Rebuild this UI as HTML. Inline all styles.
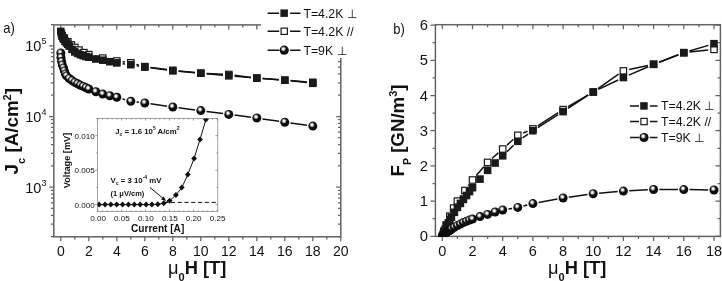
<!DOCTYPE html>
<html><head><meta charset="utf-8"><title>Jc and Fp vs field</title>
<style>html,body{margin:0;padding:0;background:#fff}svg{display:block}</style></head>
<body>
<svg width="722" height="281" viewBox="0 0 722 281" font-family="Liberation Sans, Arial, sans-serif">
<defs><radialGradient id="sp" cx="0.41" cy="0.365" r="0.31"><stop offset="0" stop-color="#fff"/><stop offset="0.3" stop-color="#f6f6f6"/><stop offset="0.62" stop-color="#909090"/><stop offset="1" stop-color="#0c0c0c"/></radialGradient></defs>
<rect width="722" height="281" fill="#fff"/>
<rect x="53.8" y="24.9" width="287.0" height="211.9" fill="none" stroke="#636363" stroke-width="1.5"/>
<path d="M60.8 236.8v4.5M60.8 24.9v4.5M74.8 236.8v2.6M74.8 24.9v2.6M88.8 236.8v4.5M88.8 24.9v4.5M102.8 236.8v2.6M102.8 24.9v2.6M116.8 236.8v4.5M116.8 24.9v4.5M130.8 236.8v2.6M130.8 24.9v2.6M144.8 236.8v4.5M144.8 24.9v4.5M158.8 236.8v2.6M158.8 24.9v2.6M172.8 236.8v4.5M172.8 24.9v4.5M186.8 236.8v2.6M186.8 24.9v2.6M200.8 236.8v4.5M200.8 24.9v4.5M214.8 236.8v2.6M214.8 24.9v2.6M228.8 236.8v4.5M228.8 24.9v4.5M242.8 236.8v2.6M242.8 24.9v2.6M256.8 236.8v4.5M256.8 24.9v4.5M270.8 236.8v2.6M270.8 24.9v2.6M284.8 236.8v4.5M284.8 24.9v4.5M298.8 236.8v2.6M298.8 24.9v2.6M312.8 236.8v4.5M312.8 24.9v4.5M326.8 236.8v2.6M326.8 24.9v2.6M340.8 236.8v4.5M340.8 24.9v4.5M53.8 236.5h-2.8M340.8 236.5h-2.8M53.8 224.1h-2.8M340.8 224.1h-2.8M53.8 215.3h-2.8M340.8 215.3h-2.8M53.8 208.4h-2.8M340.8 208.4h-2.8M53.8 202.8h-2.8M340.8 202.8h-2.8M53.8 198.1h-2.8M340.8 198.1h-2.8M53.8 194.0h-2.8M340.8 194.0h-2.8M53.8 190.4h-2.8M340.8 190.4h-2.8M53.8 187.1h-4.6M340.8 187.1h-4.6M53.8 165.9h-2.8M340.8 165.9h-2.8M53.8 153.4h-2.8M340.8 153.4h-2.8M53.8 144.6h-2.8M340.8 144.6h-2.8M53.8 137.7h-2.8M340.8 137.7h-2.8M53.8 132.1h-2.8M340.8 132.1h-2.8M53.8 127.4h-2.8M340.8 127.4h-2.8M53.8 123.3h-2.8M340.8 123.3h-2.8M53.8 119.7h-2.8M340.8 119.7h-2.8M53.8 116.5h-4.6M340.8 116.5h-4.6M53.8 95.2h-2.8M340.8 95.2h-2.8M53.8 82.8h-2.8M340.8 82.8h-2.8M53.8 73.9h-2.8M340.8 73.9h-2.8M53.8 67.1h-2.8M340.8 67.1h-2.8M53.8 61.5h-2.8M340.8 61.5h-2.8M53.8 56.7h-2.8M340.8 56.7h-2.8M53.8 52.6h-2.8M340.8 52.6h-2.8M53.8 49.0h-2.8M340.8 49.0h-2.8M53.8 45.8h-4.6M340.8 45.8h-4.6M53.8 24.5h-2.8M340.8 24.5h-2.8" stroke="#636363" stroke-width="1.25" fill="none"/>
<path d="M94.5 56.0L97.1 56.7M108.5 59.3L111.1 59.8M122.6 61.7L125.0 62.1M136.5 64.4L139.1 65.1M150.6 67.4L167.0 69.5M178.6 70.9L195.0 72.6M206.6 73.5L223.0 74.3M234.6 75.3L251.0 77.4M262.6 78.5L279.0 79.8M290.6 80.8L307.0 82.6" stroke="#111" stroke-width="1.5" fill="none"/>
<rect x="59.0" y="32.7" width="6.4" height="6.4" fill="#fff" stroke="#1a1a1a" stroke-width="1.2"/>
<rect x="61.1" y="35.0" width="6.4" height="6.4" fill="#fff" stroke="#1a1a1a" stroke-width="1.2"/>
<rect x="64.6" y="38.6" width="6.4" height="6.4" fill="#fff" stroke="#1a1a1a" stroke-width="1.2"/>
<rect x="68.1" y="41.7" width="6.4" height="6.4" fill="#fff" stroke="#1a1a1a" stroke-width="1.2"/>
<rect x="71.6" y="44.2" width="6.4" height="6.4" fill="#fff" stroke="#1a1a1a" stroke-width="1.2"/>
<rect x="75.8" y="46.9" width="6.4" height="6.4" fill="#fff" stroke="#1a1a1a" stroke-width="1.2"/>
<rect x="80.7" y="49.4" width="6.4" height="6.4" fill="#fff" stroke="#1a1a1a" stroke-width="1.2"/>
<rect x="85.6" y="51.4" width="6.4" height="6.4" fill="#fff" stroke="#1a1a1a" stroke-width="1.2"/>
<rect x="99.6" y="54.9" width="6.4" height="6.4" fill="#fff" stroke="#1a1a1a" stroke-width="1.2"/>
<rect x="113.6" y="57.8" width="6.4" height="6.4" fill="#fff" stroke="#1a1a1a" stroke-width="1.2"/>
<rect x="127.6" y="59.6" width="6.4" height="6.4" fill="#fff" stroke="#1a1a1a" stroke-width="1.2"/>
<rect x="141.6" y="63.4" width="6.4" height="6.4" fill="#fff" stroke="#1a1a1a" stroke-width="1.2"/>
<rect x="169.6" y="67.1" width="6.4" height="6.4" fill="#fff" stroke="#1a1a1a" stroke-width="1.2"/>
<rect x="197.6" y="70.0" width="6.4" height="6.4" fill="#fff" stroke="#1a1a1a" stroke-width="1.2"/>
<rect x="225.6" y="71.3" width="6.4" height="6.4" fill="#fff" stroke="#1a1a1a" stroke-width="1.2"/>
<rect x="253.6" y="74.9" width="6.4" height="6.4" fill="#fff" stroke="#1a1a1a" stroke-width="1.2"/>
<rect x="281.6" y="77.0" width="6.4" height="6.4" fill="#fff" stroke="#1a1a1a" stroke-width="1.2"/>
<rect x="309.6" y="80.1" width="6.4" height="6.4" fill="#fff" stroke="#1a1a1a" stroke-width="1.2"/>
<path d="M122.6 63.7L125.0 64.0M136.6 65.7L139.0 66.1M150.6 67.8L167.0 70.0M178.6 71.3L195.0 72.7M206.6 73.7L223.0 75.3M234.6 76.3L251.0 77.6M262.6 78.5L279.0 79.8M290.6 80.6L307.0 81.9" stroke="#111" stroke-width="1.5" fill="none"/>
<rect x="57.0" y="27.6" width="7.6" height="7.6" fill="#1a1a1a"/>
<rect x="57.7" y="30.2" width="7.6" height="7.6" fill="#1a1a1a"/>
<rect x="58.4" y="32.3" width="7.6" height="7.6" fill="#1a1a1a"/>
<rect x="59.1" y="33.9" width="7.6" height="7.6" fill="#1a1a1a"/>
<rect x="59.8" y="35.4" width="7.6" height="7.6" fill="#1a1a1a"/>
<rect x="61.2" y="37.4" width="7.6" height="7.6" fill="#1a1a1a"/>
<rect x="62.6" y="39.1" width="7.6" height="7.6" fill="#1a1a1a"/>
<rect x="64.0" y="40.5" width="7.6" height="7.6" fill="#1a1a1a"/>
<rect x="65.4" y="42.3" width="7.6" height="7.6" fill="#1a1a1a"/>
<rect x="68.2" y="45.6" width="7.6" height="7.6" fill="#1a1a1a"/>
<rect x="71.0" y="48.1" width="7.6" height="7.6" fill="#1a1a1a"/>
<rect x="73.8" y="49.6" width="7.6" height="7.6" fill="#1a1a1a"/>
<rect x="76.6" y="50.9" width="7.6" height="7.6" fill="#1a1a1a"/>
<rect x="79.4" y="51.9" width="7.6" height="7.6" fill="#1a1a1a"/>
<rect x="82.2" y="52.7" width="7.6" height="7.6" fill="#1a1a1a"/>
<rect x="85.0" y="53.4" width="7.6" height="7.6" fill="#1a1a1a"/>
<rect x="92.0" y="55.2" width="7.6" height="7.6" fill="#1a1a1a"/>
<rect x="99.0" y="56.4" width="7.6" height="7.6" fill="#1a1a1a"/>
<rect x="106.0" y="57.9" width="7.6" height="7.6" fill="#1a1a1a"/>
<rect x="113.0" y="59.1" width="7.6" height="7.6" fill="#1a1a1a"/>
<rect x="127.0" y="60.9" width="7.6" height="7.6" fill="#1a1a1a"/>
<rect x="141.0" y="63.3" width="7.6" height="7.6" fill="#1a1a1a"/>
<rect x="169.0" y="67.0" width="7.6" height="7.6" fill="#1a1a1a"/>
<rect x="197.0" y="69.4" width="7.6" height="7.6" fill="#1a1a1a"/>
<rect x="225.0" y="72.0" width="7.6" height="7.6" fill="#1a1a1a"/>
<rect x="253.0" y="74.3" width="7.6" height="7.6" fill="#1a1a1a"/>
<rect x="281.0" y="76.4" width="7.6" height="7.6" fill="#1a1a1a"/>
<rect x="309.0" y="78.5" width="7.6" height="7.6" fill="#1a1a1a"/>
<path d="M122.4 98.9L125.2 99.7M136.6 102.0L139.0 102.3M150.5 103.8L167.1 106.2M178.6 107.8L195.0 109.9M206.5 111.4L223.1 113.6M234.6 115.1L251.0 117.3M262.5 118.9L279.1 121.3M290.5 123.0L307.1 125.3" stroke="#111" stroke-width="1.5" fill="none"/>
<circle cx="60.8" cy="53.0" r="4.5" fill="url(#sp)"/>
<circle cx="61.0" cy="57.4" r="4.5" fill="url(#sp)"/>
<circle cx="61.6" cy="61.5" r="4.5" fill="url(#sp)"/>
<circle cx="62.3" cy="64.9" r="4.5" fill="url(#sp)"/>
<circle cx="63.5" cy="67.9" r="4.5" fill="url(#sp)"/>
<circle cx="64.4" cy="70.9" r="4.5" fill="url(#sp)"/>
<circle cx="65.4" cy="73.9" r="4.5" fill="url(#sp)"/>
<circle cx="66.5" cy="75.9" r="4.5" fill="url(#sp)"/>
<circle cx="69.2" cy="78.5" r="4.5" fill="url(#sp)"/>
<circle cx="72.0" cy="80.6" r="4.5" fill="url(#sp)"/>
<circle cx="74.8" cy="82.4" r="4.5" fill="url(#sp)"/>
<circle cx="77.6" cy="83.8" r="4.5" fill="url(#sp)"/>
<circle cx="80.4" cy="85.2" r="4.5" fill="url(#sp)"/>
<circle cx="83.2" cy="86.4" r="4.5" fill="url(#sp)"/>
<circle cx="86.0" cy="87.7" r="4.5" fill="url(#sp)"/>
<circle cx="88.8" cy="89.0" r="4.5" fill="url(#sp)"/>
<circle cx="95.8" cy="91.7" r="4.5" fill="url(#sp)"/>
<circle cx="102.8" cy="94.1" r="4.5" fill="url(#sp)"/>
<circle cx="109.8" cy="95.7" r="4.5" fill="url(#sp)"/>
<circle cx="116.8" cy="97.3" r="4.5" fill="url(#sp)"/>
<circle cx="130.8" cy="101.3" r="4.5" fill="url(#sp)"/>
<circle cx="144.8" cy="103.0" r="4.5" fill="url(#sp)"/>
<circle cx="172.8" cy="107.0" r="4.5" fill="url(#sp)"/>
<circle cx="200.8" cy="110.6" r="4.5" fill="url(#sp)"/>
<circle cx="228.8" cy="114.4" r="4.5" fill="url(#sp)"/>
<circle cx="256.8" cy="118.0" r="4.5" fill="url(#sp)"/>
<circle cx="284.8" cy="122.2" r="4.5" fill="url(#sp)"/>
<circle cx="312.8" cy="126.1" r="4.5" fill="url(#sp)"/>
<rect x="261" y="0" width="100" height="58" fill="#fff"/>
<path d="M267.6 13.2H279.2M290.09999999999997 13.2H300.5" stroke="#111" stroke-width="1.5"/>
<rect x="280.4" y="9.4" width="7.5" height="7.5" fill="#1a1a1a"/>
<path d="M267.6 31.2H279.2M290.09999999999997 31.2H300.5" stroke="#111" stroke-width="1.5"/>
<rect x="281.1" y="28.1" width="6.3" height="6.3" fill="#fff" stroke="#1a1a1a" stroke-width="1.2"/>
<path d="M267.6 50.2H279.2M290.09999999999997 50.2H300.5" stroke="#111" stroke-width="1.5"/>
<circle cx="284.2" cy="50.2" r="4.6" fill="url(#sp)"/>
<text x="303.4" y="17.6" font-size="12.3" fill="#111">T=4.2K ⊥</text>
<text x="303.4" y="35.6" font-size="12.3" fill="#111">T=4.2K //</text>
<text x="303.4" y="54.6" font-size="12.3" fill="#111">T=9K ⊥</text>
<text x="60.8" y="255.5" font-size="14" text-anchor="middle" fill="#111">0</text>
<text x="88.8" y="255.5" font-size="14" text-anchor="middle" fill="#111">2</text>
<text x="116.8" y="255.5" font-size="14" text-anchor="middle" fill="#111">4</text>
<text x="144.8" y="255.5" font-size="14" text-anchor="middle" fill="#111">6</text>
<text x="172.8" y="255.5" font-size="14" text-anchor="middle" fill="#111">8</text>
<text x="200.8" y="255.5" font-size="14" text-anchor="middle" fill="#111">10</text>
<text x="228.8" y="255.5" font-size="14" text-anchor="middle" fill="#111">12</text>
<text x="256.8" y="255.5" font-size="14" text-anchor="middle" fill="#111">14</text>
<text x="284.8" y="255.5" font-size="14" text-anchor="middle" fill="#111">16</text>
<text x="312.8" y="255.5" font-size="14" text-anchor="middle" fill="#111">18</text>
<text x="340.8" y="255.5" font-size="14" text-anchor="middle" fill="#111">20</text>
<text x="46.4" y="192.6" font-size="14.5" text-anchor="end" fill="#111">10<tspan font-size="9" dy="-7">3</tspan></text>
<text x="46.4" y="122.0" font-size="14.5" text-anchor="end" fill="#111">10<tspan font-size="9" dy="-7">4</tspan></text>
<text x="46.4" y="51.3" font-size="14.5" text-anchor="end" fill="#111">10<tspan font-size="9" dy="-7">5</tspan></text>
<text transform="translate(3.2,33.4) scale(0.88,1)" font-size="14.8" fill="#111">a)</text>
<text x="168" y="274.2" font-size="18.3" font-weight="bold" fill="#111"><tspan font-weight="normal">μ</tspan><tspan font-size="11" dy="7.2">0</tspan><tspan dy="-7.2">H [T]</tspan></text>
<text transform="translate(17.8,174.4) rotate(-90)" font-size="18.8" font-weight="bold" fill="#111">J<tspan font-size="11" dy="7.5">c</tspan><tspan dy="-7.5"> [A/cm</tspan><tspan font-size="11" dy="-7">2</tspan><tspan dy="7">]</tspan></text>
<rect x="62" y="117.6" width="160" height="118" fill="#fff"/>
<rect x="97.6" y="118.4" width="120.2" height="93.1" fill="none" stroke="#8a8a8a" stroke-width="0.8"/>
<path d="M97.8 211.5v-2.2M97.8 118.4v2.2M102.6 211.5v-1.2M102.6 118.4v1.2M107.4 211.5v-1.2M107.4 118.4v1.2M112.1 211.5v-1.2M112.1 118.4v1.2M116.9 211.5v-1.2M116.9 118.4v1.2M121.7 211.5v-2.2M121.7 118.4v2.2M126.5 211.5v-1.2M126.5 118.4v1.2M131.3 211.5v-1.2M131.3 118.4v1.2M136.0 211.5v-1.2M136.0 118.4v1.2M140.8 211.5v-1.2M140.8 118.4v1.2M145.6 211.5v-2.2M145.6 118.4v2.2M150.4 211.5v-1.2M150.4 118.4v1.2M155.2 211.5v-1.2M155.2 118.4v1.2M159.9 211.5v-1.2M159.9 118.4v1.2M164.7 211.5v-1.2M164.7 118.4v1.2M169.5 211.5v-2.2M169.5 118.4v2.2M174.3 211.5v-1.2M174.3 118.4v1.2M179.1 211.5v-1.2M179.1 118.4v1.2M183.8 211.5v-1.2M183.8 118.4v1.2M188.6 211.5v-1.2M188.6 118.4v1.2M193.4 211.5v-2.2M193.4 118.4v2.2M198.2 211.5v-1.2M198.2 118.4v1.2M203.0 211.5v-1.2M203.0 118.4v1.2M207.7 211.5v-1.2M207.7 118.4v1.2M212.5 211.5v-1.2M212.5 118.4v1.2M217.3 211.5v-2.2M217.3 118.4v2.2M97.6 204.6h-2.4M217.8 204.6h-2.4M97.6 187.4h-1.4M217.8 187.4h-1.4M97.6 170.1h-2.4M217.8 170.1h-2.4M97.6 152.9h-1.4M217.8 152.9h-1.4M97.6 135.7h-2.4M217.8 135.7h-2.4M97.6 118.5h-1.4M217.8 118.5h-1.4" stroke="#777" stroke-width="0.7" fill="none"/>
<path d="M164 202.4H217.8" stroke="#111" stroke-width="1" stroke-dasharray="4.2 2.6"/>
<clipPath id="ic"><rect x="97.6" y="118.4" width="120.2" height="93.1"/></clipPath>
<g clip-path="url(#ic)">
<path d="M99.1 204.6L105.0 204.6L110.8 204.6L116.7 204.6L122.6 204.6L128.4 204.6L134.3 204.6L140.2 204.6L146.1 204.6L151.9 204.6L157.8 204.3L163.7 203.3L169.6 200.7L175.9 195.1L181.8 187.6L187.8 174.6L194.1 158.4L200.0 139.5L205.9 119.6L209.5 108.0" stroke="#111" stroke-width="1" fill="none"/>
<path d="M99.1 201.6l2.9 3l-2.9 3l-2.9 -3z" fill="#111"/>
<path d="M105.0 201.6l2.9 3l-2.9 3l-2.9 -3z" fill="#111"/>
<path d="M110.8 201.6l2.9 3l-2.9 3l-2.9 -3z" fill="#111"/>
<path d="M116.7 201.6l2.9 3l-2.9 3l-2.9 -3z" fill="#111"/>
<path d="M122.6 201.6l2.9 3l-2.9 3l-2.9 -3z" fill="#111"/>
<path d="M128.4 201.6l2.9 3l-2.9 3l-2.9 -3z" fill="#111"/>
<path d="M134.3 201.6l2.9 3l-2.9 3l-2.9 -3z" fill="#111"/>
<path d="M140.2 201.6l2.9 3l-2.9 3l-2.9 -3z" fill="#111"/>
<path d="M146.1 201.6l2.9 3l-2.9 3l-2.9 -3z" fill="#111"/>
<path d="M151.9 201.6l2.9 3l-2.9 3l-2.9 -3z" fill="#111"/>
<path d="M157.8 201.3l2.9 3l-2.9 3l-2.9 -3z" fill="#111"/>
<path d="M163.7 200.3l2.9 3l-2.9 3l-2.9 -3z" fill="#111"/>
<path d="M169.6 197.7l2.9 3l-2.9 3l-2.9 -3z" fill="#111"/>
<path d="M175.9 192.1l2.9 3l-2.9 3l-2.9 -3z" fill="#111"/>
<path d="M181.8 184.6l2.9 3l-2.9 3l-2.9 -3z" fill="#111"/>
<path d="M187.8 171.6l2.9 3l-2.9 3l-2.9 -3z" fill="#111"/>
<path d="M194.1 155.4l2.9 3l-2.9 3l-2.9 -3z" fill="#111"/>
<path d="M200.0 136.5l2.9 3l-2.9 3l-2.9 -3z" fill="#111"/>
<path d="M205.9 116.6l2.9 3l-2.9 3l-2.9 -3z" fill="#111"/>
<path d="M209.5 105.0l2.9 3l-2.9 3l-2.9 -3z" fill="#111"/>
</g>
<path d="M150 187.5L163.6 198.8" stroke="#111" stroke-width="1"/>
<path d="M166.2 201l-5.2 -1.6l2.6 -3.1z" fill="#111"/>
<text x="98.1" y="221.3" font-size="8.1" text-anchor="middle" fill="#111">0.00</text>
<text x="122.0" y="221.3" font-size="8.1" text-anchor="middle" fill="#111">0.05</text>
<text x="145.9" y="221.3" font-size="8.1" text-anchor="middle" fill="#111">0.10</text>
<text x="169.8" y="221.3" font-size="8.1" text-anchor="middle" fill="#111">0.15</text>
<text x="193.7" y="221.3" font-size="8.1" text-anchor="middle" fill="#111">0.20</text>
<text x="217.6" y="221.3" font-size="8.1" text-anchor="middle" fill="#111">0.25</text>
<text x="94.8" y="207.5" font-size="8.1" text-anchor="end" fill="#111">0.000</text>
<text x="94.8" y="173.0" font-size="8.1" text-anchor="end" fill="#111">0.005</text>
<text x="94.8" y="138.6" font-size="8.1" text-anchor="end" fill="#111">0.010</text>
<text x="131" y="232.1" font-size="10.1" font-weight="bold" fill="#111">Current [A]</text>
<text transform="translate(69.9,188.2) rotate(-90)" font-size="9.2" font-weight="bold" fill="#111">Voltage [mV]</text>
<text x="115.2" y="133.7" font-size="7.8" font-weight="bold" fill="#111">J<tspan font-size="5" dy="2">c</tspan><tspan dy="-2"> = 1.6 10</tspan><tspan font-size="5" dy="-3.4">5</tspan><tspan dy="3.4"> A/cm</tspan><tspan font-size="5" dy="-3.4">2</tspan></text>
<text x="110.6" y="182.5" font-size="7.8" font-weight="bold" fill="#111">V<tspan font-size="5" dy="2">c</tspan><tspan dy="-2"> = 3 10</tspan><tspan font-size="5" dy="-3.4">-4</tspan><tspan dy="3.4"> mV</tspan></text>
<text x="110.6" y="196.2" font-size="7.5" font-weight="bold" fill="#111">(1 μV/cm)</text>
<rect x="435.4" y="24.7" width="285.0" height="211.7" fill="none" stroke="#636363" stroke-width="1.5"/>
<path d="M442.3 236.4v4.6M442.3 24.7v4.6M457.4 236.4v2.6M457.4 24.7v2.6M472.5 236.4v4.6M472.5 24.7v4.6M487.6 236.4v2.6M487.6 24.7v2.6M502.7 236.4v4.6M502.7 24.7v4.6M517.8 236.4v2.6M517.8 24.7v2.6M532.9 236.4v4.6M532.9 24.7v4.6M548.0 236.4v2.6M548.0 24.7v2.6M563.1 236.4v4.6M563.1 24.7v4.6M578.2 236.4v2.6M578.2 24.7v2.6M593.2 236.4v4.6M593.2 24.7v4.6M608.3 236.4v2.6M608.3 24.7v2.6M623.4 236.4v4.6M623.4 24.7v4.6M638.5 236.4v2.6M638.5 24.7v2.6M653.6 236.4v4.6M653.6 24.7v4.6M668.7 236.4v2.6M668.7 24.7v2.6M683.8 236.4v4.6M683.8 24.7v4.6M698.9 236.4v2.6M698.9 24.7v2.6M714.0 236.4v4.6M714.0 24.7v4.6M435.4 236.3h-5.0M720.4 236.3h-5.0M435.4 218.7h-2.8M720.4 218.7h-2.8M435.4 201.1h-5.0M720.4 201.1h-5.0M435.4 183.5h-2.8M720.4 183.5h-2.8M435.4 165.9h-5.0M720.4 165.9h-5.0M435.4 148.3h-2.8M720.4 148.3h-2.8M435.4 130.7h-5.0M720.4 130.7h-5.0M435.4 113.1h-2.8M720.4 113.1h-2.8M435.4 95.5h-5.0M720.4 95.5h-5.0M435.4 77.9h-2.8M720.4 77.9h-2.8M435.4 60.3h-5.0M720.4 60.3h-5.0M435.4 42.7h-2.8M720.4 42.7h-2.8M435.4 25.1h-5.0M720.4 25.1h-5.0" stroke="#636363" stroke-width="1.25" fill="none"/>
<clipPath id="bc"><rect x="435.4" y="24.7" width="287.0" height="212.3"/></clipPath>
<g clip-path="url(#bc)">
<path d="M460.8 196.3L461.5 195.3M468.3 185.8L469.1 184.7M476.3 175.5L483.8 166.8M492.0 158.5L498.3 152.9M507.0 145.1L513.4 139.2M523.2 133.0L527.5 131.2M537.8 125.8L558.1 112.7M568.1 106.6L588.2 94.9M598.0 88.6L618.6 74.2M629.2 69.6L647.9 65.6M659.1 62.2L678.4 54.8M689.6 52.1L708.2 50.0" stroke="#111" stroke-width="1.5" fill="none"/>
<rect x="440.6" y="228.2" width="6.4" height="6.4" fill="#fff" stroke="#1a1a1a" stroke-width="1.2"/>
<rect x="442.9" y="221.8" width="6.4" height="6.4" fill="#fff" stroke="#1a1a1a" stroke-width="1.2"/>
<rect x="446.6" y="213.0" width="6.4" height="6.4" fill="#fff" stroke="#1a1a1a" stroke-width="1.2"/>
<rect x="450.4" y="204.9" width="6.4" height="6.4" fill="#fff" stroke="#1a1a1a" stroke-width="1.2"/>
<rect x="454.2" y="197.9" width="6.4" height="6.4" fill="#fff" stroke="#1a1a1a" stroke-width="1.2"/>
<rect x="461.7" y="187.3" width="6.4" height="6.4" fill="#fff" stroke="#1a1a1a" stroke-width="1.2"/>
<rect x="469.3" y="176.8" width="6.4" height="6.4" fill="#fff" stroke="#1a1a1a" stroke-width="1.2"/>
<rect x="484.4" y="159.2" width="6.4" height="6.4" fill="#fff" stroke="#1a1a1a" stroke-width="1.2"/>
<rect x="499.5" y="145.8" width="6.4" height="6.4" fill="#fff" stroke="#1a1a1a" stroke-width="1.2"/>
<rect x="514.6" y="132.1" width="6.4" height="6.4" fill="#fff" stroke="#1a1a1a" stroke-width="1.2"/>
<rect x="529.7" y="125.7" width="6.4" height="6.4" fill="#fff" stroke="#1a1a1a" stroke-width="1.2"/>
<rect x="559.9" y="106.4" width="6.4" height="6.4" fill="#fff" stroke="#1a1a1a" stroke-width="1.2"/>
<rect x="590.1" y="88.8" width="6.4" height="6.4" fill="#fff" stroke="#1a1a1a" stroke-width="1.2"/>
<rect x="620.2" y="67.7" width="6.4" height="6.4" fill="#fff" stroke="#1a1a1a" stroke-width="1.2"/>
<rect x="650.4" y="61.1" width="6.4" height="6.4" fill="#fff" stroke="#1a1a1a" stroke-width="1.2"/>
<rect x="680.6" y="49.5" width="6.4" height="6.4" fill="#fff" stroke="#1a1a1a" stroke-width="1.2"/>
<rect x="710.8" y="46.2" width="6.4" height="6.4" fill="#fff" stroke="#1a1a1a" stroke-width="1.2"/>
<path d="M506.9 151.7L513.6 145.3M522.6 137.9L528.1 134.1M537.8 127.6L558.1 114.7M568.0 108.4L588.3 95.2M598.5 89.4L618.2 80.0M628.8 75.1L648.3 66.7M659.1 62.2L678.4 54.8M689.4 51.0L708.4 45.4" stroke="#111" stroke-width="1.5" fill="none"/>
<rect x="438.5" y="232.5" width="7.6" height="7.6" fill="#1a1a1a"/>
<rect x="439.3" y="230.5" width="7.6" height="7.6" fill="#1a1a1a"/>
<rect x="440.0" y="228.6" width="7.6" height="7.6" fill="#1a1a1a"/>
<rect x="440.8" y="226.9" width="7.6" height="7.6" fill="#1a1a1a"/>
<rect x="441.5" y="225.3" width="7.6" height="7.6" fill="#1a1a1a"/>
<rect x="443.0" y="222.1" width="7.6" height="7.6" fill="#1a1a1a"/>
<rect x="444.5" y="219.1" width="7.6" height="7.6" fill="#1a1a1a"/>
<rect x="446.0" y="216.1" width="7.6" height="7.6" fill="#1a1a1a"/>
<rect x="447.6" y="213.4" width="7.6" height="7.6" fill="#1a1a1a"/>
<rect x="450.6" y="208.5" width="7.6" height="7.6" fill="#1a1a1a"/>
<rect x="453.6" y="203.6" width="7.6" height="7.6" fill="#1a1a1a"/>
<rect x="456.6" y="199.6" width="7.6" height="7.6" fill="#1a1a1a"/>
<rect x="459.6" y="195.6" width="7.6" height="7.6" fill="#1a1a1a"/>
<rect x="462.7" y="191.7" width="7.6" height="7.6" fill="#1a1a1a"/>
<rect x="465.7" y="187.8" width="7.6" height="7.6" fill="#1a1a1a"/>
<rect x="468.7" y="183.9" width="7.6" height="7.6" fill="#1a1a1a"/>
<rect x="476.2" y="175.3" width="7.6" height="7.6" fill="#1a1a1a"/>
<rect x="483.8" y="166.5" width="7.6" height="7.6" fill="#1a1a1a"/>
<rect x="491.3" y="159.2" width="7.6" height="7.6" fill="#1a1a1a"/>
<rect x="498.9" y="152.0" width="7.6" height="7.6" fill="#1a1a1a"/>
<rect x="514.0" y="137.5" width="7.6" height="7.6" fill="#1a1a1a"/>
<rect x="529.1" y="126.9" width="7.6" height="7.6" fill="#1a1a1a"/>
<rect x="559.3" y="107.8" width="7.6" height="7.6" fill="#1a1a1a"/>
<rect x="589.5" y="88.2" width="7.6" height="7.6" fill="#1a1a1a"/>
<rect x="619.6" y="73.7" width="7.6" height="7.6" fill="#1a1a1a"/>
<rect x="649.8" y="60.5" width="7.6" height="7.6" fill="#1a1a1a"/>
<rect x="680.0" y="48.9" width="7.6" height="7.6" fill="#1a1a1a"/>
<rect x="710.2" y="39.9" width="7.6" height="7.6" fill="#1a1a1a"/>
<path d="M508.4 209.0L512.1 208.4M523.4 206.0L527.3 205.0M538.6 202.5L557.4 199.1M568.8 197.2L587.5 194.5M599.0 193.2L617.7 191.6M629.2 190.8L647.8 189.8M659.4 189.5L678.0 189.5M689.6 189.6L708.2 190.0" stroke="#111" stroke-width="1.5" fill="none"/>
<circle cx="442.3" cy="236.3" r="4.5" fill="url(#sp)"/>
<circle cx="442.6" cy="235.8" r="4.5" fill="url(#sp)"/>
<circle cx="442.9" cy="235.4" r="4.5" fill="url(#sp)"/>
<circle cx="443.2" cy="235.0" r="4.5" fill="url(#sp)"/>
<circle cx="443.5" cy="234.7" r="4.5" fill="url(#sp)"/>
<circle cx="443.8" cy="234.4" r="4.5" fill="url(#sp)"/>
<circle cx="444.1" cy="234.1" r="4.5" fill="url(#sp)"/>
<circle cx="444.4" cy="233.7" r="4.5" fill="url(#sp)"/>
<circle cx="444.7" cy="233.5" r="4.5" fill="url(#sp)"/>
<circle cx="445.0" cy="233.2" r="4.5" fill="url(#sp)"/>
<circle cx="445.3" cy="232.9" r="4.5" fill="url(#sp)"/>
<circle cx="445.6" cy="232.7" r="4.5" fill="url(#sp)"/>
<circle cx="445.9" cy="232.5" r="4.5" fill="url(#sp)"/>
<circle cx="446.2" cy="232.3" r="4.5" fill="url(#sp)"/>
<circle cx="446.5" cy="232.1" r="4.5" fill="url(#sp)"/>
<circle cx="446.8" cy="231.9" r="4.5" fill="url(#sp)"/>
<circle cx="447.1" cy="231.7" r="4.5" fill="url(#sp)"/>
<circle cx="447.4" cy="231.6" r="4.5" fill="url(#sp)"/>
<circle cx="447.7" cy="231.4" r="4.5" fill="url(#sp)"/>
<circle cx="448.0" cy="231.2" r="4.5" fill="url(#sp)"/>
<circle cx="448.3" cy="231.0" r="4.5" fill="url(#sp)"/>
<circle cx="448.6" cy="230.8" r="4.5" fill="url(#sp)"/>
<circle cx="448.9" cy="230.6" r="4.5" fill="url(#sp)"/>
<circle cx="449.2" cy="230.4" r="4.5" fill="url(#sp)"/>
<circle cx="449.5" cy="230.2" r="4.5" fill="url(#sp)"/>
<circle cx="449.8" cy="230.0" r="4.5" fill="url(#sp)"/>
<circle cx="450.1" cy="229.8" r="4.5" fill="url(#sp)"/>
<circle cx="450.5" cy="229.6" r="4.5" fill="url(#sp)"/>
<circle cx="450.8" cy="229.4" r="4.5" fill="url(#sp)"/>
<circle cx="451.1" cy="229.2" r="4.5" fill="url(#sp)"/>
<circle cx="451.4" cy="229.0" r="4.5" fill="url(#sp)"/>
<circle cx="451.7" cy="228.8" r="4.5" fill="url(#sp)"/>
<circle cx="454.4" cy="227.2" r="4.5" fill="url(#sp)"/>
<circle cx="457.4" cy="225.6" r="4.5" fill="url(#sp)"/>
<circle cx="460.4" cy="224.1" r="4.5" fill="url(#sp)"/>
<circle cx="463.4" cy="222.6" r="4.5" fill="url(#sp)"/>
<circle cx="466.5" cy="221.3" r="4.5" fill="url(#sp)"/>
<circle cx="469.5" cy="220.1" r="4.5" fill="url(#sp)"/>
<circle cx="472.5" cy="219.1" r="4.5" fill="url(#sp)"/>
<circle cx="480.0" cy="216.6" r="4.5" fill="url(#sp)"/>
<circle cx="487.6" cy="214.4" r="4.5" fill="url(#sp)"/>
<circle cx="495.1" cy="212.0" r="4.5" fill="url(#sp)"/>
<circle cx="502.7" cy="210.0" r="4.5" fill="url(#sp)"/>
<circle cx="517.8" cy="207.4" r="4.5" fill="url(#sp)"/>
<circle cx="532.9" cy="203.6" r="4.5" fill="url(#sp)"/>
<circle cx="563.1" cy="198.0" r="4.5" fill="url(#sp)"/>
<circle cx="593.2" cy="193.7" r="4.5" fill="url(#sp)"/>
<circle cx="623.4" cy="191.1" r="4.5" fill="url(#sp)"/>
<circle cx="653.6" cy="189.5" r="4.5" fill="url(#sp)"/>
<circle cx="683.8" cy="189.6" r="4.5" fill="url(#sp)"/>
<circle cx="714.0" cy="190.0" r="4.5" fill="url(#sp)"/>
</g>
<path d="M629.9 106.0H639.0M649.9 106.0H657.5" stroke="#111" stroke-width="1.5"/>
<rect x="640.2" y="102.2" width="7.5" height="7.5" fill="#1a1a1a"/>
<path d="M629.9 121.6H639.0M649.9 121.6H657.5" stroke="#111" stroke-width="1.5"/>
<rect x="640.9" y="118.4" width="6.3" height="6.3" fill="#fff" stroke="#1a1a1a" stroke-width="1.2"/>
<path d="M629.9 137.5H639.0M649.9 137.5H657.5" stroke="#111" stroke-width="1.5"/>
<circle cx="644.0" cy="137.5" r="4.6" fill="url(#sp)"/>
<text x="661.0" y="110.4" font-size="12.3" fill="#111">T=4.2K ⊥</text>
<text x="661.0" y="126.0" font-size="12.3" fill="#111">T=4.2K //</text>
<text x="661.0" y="141.9" font-size="12.3" fill="#111">T=9K ⊥</text>
<text x="442.3" y="255.7" font-size="14.5" text-anchor="middle" fill="#111">0</text>
<text x="472.5" y="255.7" font-size="14.5" text-anchor="middle" fill="#111">2</text>
<text x="502.7" y="255.7" font-size="14.5" text-anchor="middle" fill="#111">4</text>
<text x="532.9" y="255.7" font-size="14.5" text-anchor="middle" fill="#111">6</text>
<text x="563.1" y="255.7" font-size="14.5" text-anchor="middle" fill="#111">8</text>
<text x="593.2" y="255.7" font-size="14.5" text-anchor="middle" fill="#111">10</text>
<text x="623.4" y="255.7" font-size="14.5" text-anchor="middle" fill="#111">12</text>
<text x="653.6" y="255.7" font-size="14.5" text-anchor="middle" fill="#111">14</text>
<text x="683.8" y="255.7" font-size="14.5" text-anchor="middle" fill="#111">16</text>
<text x="714.0" y="255.7" font-size="14.5" text-anchor="middle" fill="#111">18</text>
<text x="427.9" y="241.4" font-size="14.8" text-anchor="end" fill="#111">0</text>
<text x="427.9" y="206.2" font-size="14.8" text-anchor="end" fill="#111">1</text>
<text x="427.9" y="171.0" font-size="14.8" text-anchor="end" fill="#111">2</text>
<text x="427.9" y="135.8" font-size="14.8" text-anchor="end" fill="#111">3</text>
<text x="427.9" y="100.6" font-size="14.8" text-anchor="end" fill="#111">4</text>
<text x="427.9" y="65.4" font-size="14.8" text-anchor="end" fill="#111">5</text>
<text x="427.9" y="30.2" font-size="14.8" text-anchor="end" fill="#111">6</text>
<text transform="translate(393.2,33.8) scale(0.88,1)" font-size="14.8" fill="#111">b)</text>
<text x="548" y="274.2" font-size="18.3" font-weight="bold" fill="#111"><tspan font-weight="normal">μ</tspan><tspan font-size="11" dy="7.2">0</tspan><tspan dy="-7.2">H [T]</tspan></text>
<text transform="translate(403.9,176.5) rotate(-90)" font-size="18.7" font-weight="bold" fill="#111">F<tspan font-size="10.5" dy="7.1">P</tspan><tspan dy="-7.1"> [GN/m</tspan><tspan font-size="11" dy="-7">3</tspan><tspan dy="7">]</tspan></text>
</svg>
</body></html>
